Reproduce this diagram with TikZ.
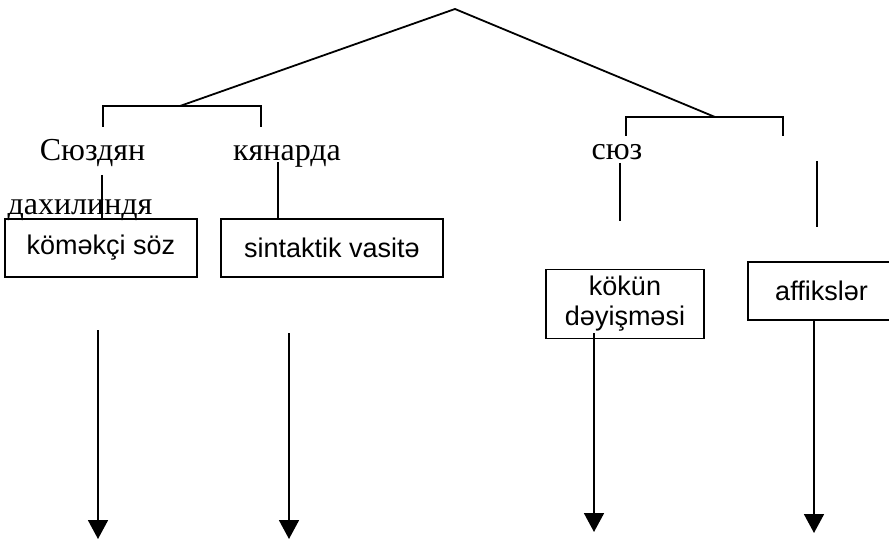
\documentclass[tikz,border=0pt]{standalone}
\usepackage{fontspec}
\setmainfont{Liberation Serif}
\newfontfamily\boxfont{Liberation Sans}
\usetikzlibrary{arrows.meta}
\begin{document}
\begin{tikzpicture}[x=1pt,y=-1pt,
  line width=1.8pt,
  word/.style={inner sep=0pt,anchor=base,font=\fontsize{32}{35}\selectfont},
  termbox/.style={draw,inner sep=0pt,font=\boxfont\fontsize{27}{30}\selectfont,align=center},
  downarrow/.style={-{Triangle[width=20pt,length=19pt]}}]
\useasboundingbox (0,0) rectangle (889,540);

% apex and the two branches
\coordinate (apex) at (455,9);
\coordinate (lmid) at (180,106);
\coordinate (rmid) at (715,117);
\draw (lmid) -- (apex) -- (rmid);

% left bracket
\coordinate (lbl) at (103,127);
\coordinate (lbr) at (261,127);
\draw (lbl) |- (lmid) -| (lbr);

% right bracket
\coordinate (rbl) at (626,136);
\coordinate (rbr) at (783,136);
\draw (rbl) |- (rmid) -| (rbr);

% words
\node[word] (w1) at (92.5,161) {Сюздян};
\node[word] (w2) at (287,161) {кянарда};
\node[word] (w3) at (617,160) {сюз};
\node[word] (w4) at (80,215) {дахилиндя};

% boxes
\node[termbox,minimum width=192pt,minimum height=58pt] (b1) at (101,248) {köməkçi söz};
\node[termbox,minimum width=222pt,minimum height=58pt] (b2) at (332,248) {sintaktik vasitə};
\node[termbox,minimum width=158pt,minimum height=69pt] (b3) at (625,304) {kökün\\dəyişməsi};
\node[termbox,minimum width=147pt,minimum height=58pt] (b4) at (821.5,291) {affikslər};

% vertical links
\coordinate (v1) at (102,175);
\draw (v1) -- (v1 |- b1.north);
\coordinate (v2) at (278,162);
\draw (v2) -- (v2 |- b2.north);
\coordinate (v3a) at (620,163);
\coordinate (v3b) at (620,221);
\draw (v3a) -- (v3b);
\coordinate (v4a) at (817,161);
\coordinate (v4b) at (817,227);
\draw (v4a) -- (v4b);

% arrows
\coordinate (a1s) at (98,330);  \coordinate (a1e) at (98,539);
\coordinate (a2s) at (289,333); \coordinate (a2e) at (289,539);
\coordinate (a3s) at (594,333); \coordinate (a3e) at (594,532);
\coordinate (a4s) at (814,0);   \coordinate (a4e) at (814,533);
\draw[downarrow] (a1s) -- (a1e);
\draw[downarrow] (a2s) -- (a2e);
\draw[downarrow] (a3s) -- (a3e);
\draw[downarrow] (a4s |- b4.south) -- (a4e);
\end{tikzpicture}
\end{document}
